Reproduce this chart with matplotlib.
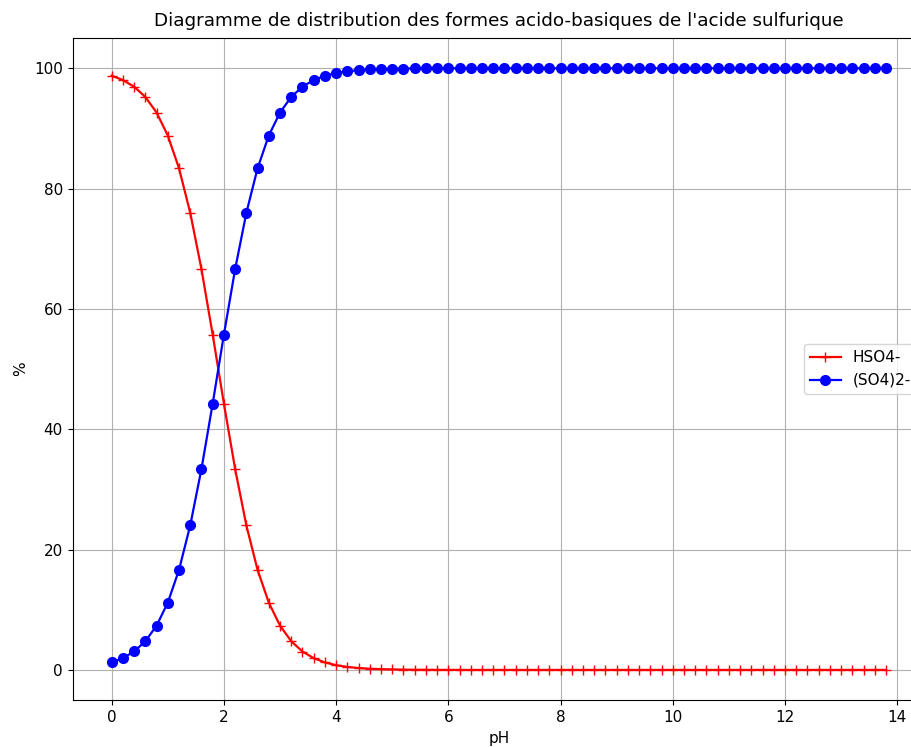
import matplotlib
matplotlib.use("Agg")
import matplotlib.pyplot as plt

# valeurs de pH (pas de 0.2)
pH = [0.0, 0.2, 0.4, 0.6, 0.8, 1.0, 1.2, 1.4, 1.6, 1.8,
      2.0, 2.2, 2.4, 2.6, 2.8, 3.0, 3.2, 3.4, 3.6, 3.8,
      4.0, 4.2, 4.4, 4.6, 4.8, 5.0, 5.2, 5.4, 5.6, 5.8,
      6.0, 6.2, 6.4, 6.6, 6.8, 7.0, 7.2, 7.4, 7.6, 7.8,
      8.0, 8.2, 8.4, 8.6, 8.8, 9.0, 9.2, 9.4, 9.6, 9.8,
      10.0, 10.2, 10.4, 10.6, 10.8, 11.0, 11.2, 11.4, 11.6, 11.8,
      12.0, 12.2, 12.4, 12.6, 12.8, 13.0, 13.2, 13.4, 13.6, 13.8]

so4 = [1.24, 1.96, 3.07, 4.77, 7.36, 11.18, 16.63, 24.03, 33.39, 44.27,
       55.73, 66.61, 75.97, 83.37, 88.82, 92.64, 95.23, 96.94, 98.04, 98.76,
       99.21, 99.50, 99.68, 99.80, 99.87, 99.92, 99.95, 99.97, 99.98, 99.99,
       99.99, 100.0, 100.0, 100.0, 100.0, 100.0, 100.0, 100.0, 100.0, 100.0,
       100.0, 100.0, 100.0, 100.0, 100.0, 100.0, 100.0, 100.0, 100.0, 100.0,
       100.0, 100.0, 100.0, 100.0, 100.0, 100.0, 100.0, 100.0, 100.0, 100.0,
       100.0, 100.0, 100.0, 100.0, 100.0, 100.0, 100.0, 100.0, 100.0, 100.0]

hso4 = [98.76, 98.04, 96.93, 95.23, 92.64, 88.82, 83.37, 75.97, 66.61, 55.73,
        44.27, 33.39, 24.03, 16.63, 11.18, 7.36, 4.77, 3.06, 1.96, 1.24,
        0.79, 0.50, 0.32, 0.20, 0.13, 0.08, 0.05, 0.03, 0.02, 0.01,
        0.01, 0.0, 0.0, 0.0, 0.0, 0.0, 0.0, 0.0, 0.0, 0.0,
        0.0, 0.0, 0.0, 0.0, 0.0, 0.0, 0.0, 0.0, 0.0, 0.0,
        0.0, 0.0, 0.0, 0.0, 0.0, 0.0, 0.0, 0.0, 0.0, 0.0,
        0.0, 0.0, 0.0, 0.0, 0.0, 0.0, 0.0, 0.0, 0.0, 0.0]

s = 1.1  # l'image de référence est un peu agrandie
plt.rcParams['font.size'] = 10 * s
plt.rcParams['axes.titlesize'] = 12 * s
plt.rcParams['xtick.major.size'] = 3.5 * s
plt.rcParams['ytick.major.size'] = 3.5 * s

fig = plt.figure(figsize=(9.12, 7.47), dpi=100)
ax = fig.add_axes([0.080, 0.0629, 0.934, 0.886])

ax.plot(pH, hso4, color='red', marker='+', markersize=7, linewidth=1.6, label='HSO4-')
ax.plot(pH, so4, color='blue', marker='o', markersize=7, linewidth=1.6, label='(SO4)2-')

ax.set_title("Diagramme de distribution des formes acido-basiques de l'acide sulfurique", pad=8.8)
ax.set_xlabel('pH')
ax.set_ylabel('%')
ax.grid(True)
ax.legend(loc='center right')

fig.savefig('out.png', dpi=100)
